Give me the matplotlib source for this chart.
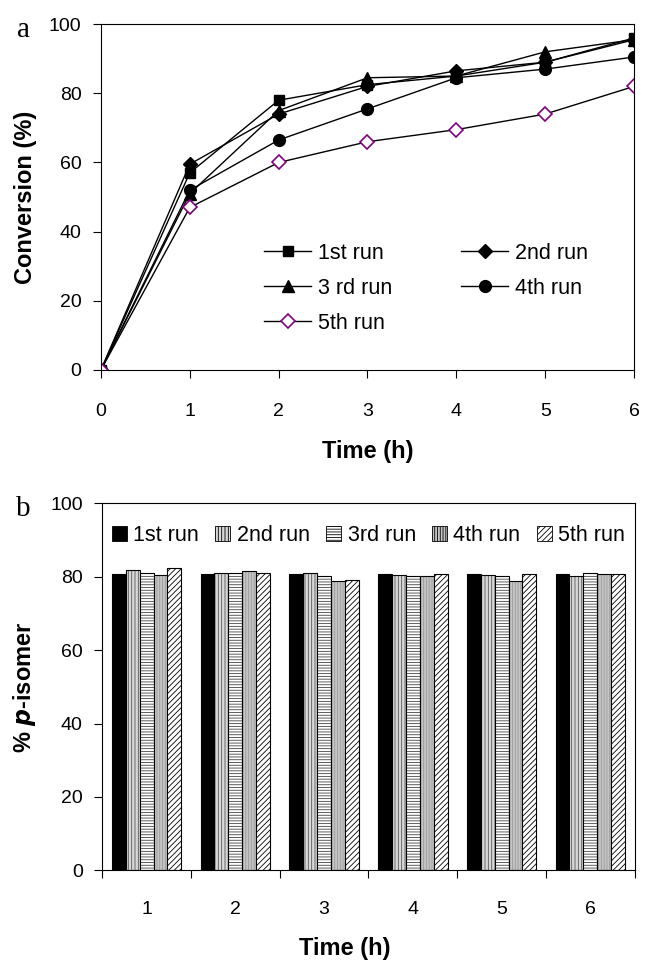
import matplotlib
matplotlib.use('Agg')
import matplotlib.pyplot as plt
import numpy as np

plt.rcParams['font.family'] = ['Liberation Sans', 'DejaVu Sans']
plt.rcParams['hatch.linewidth'] = 0.6

# panel a: conversion vs time
time_h = [0, 1, 2, 3, 4, 5, 6]
run1 = [0, 57, 78, 82.5, 85, 89, 96]
run2 = [0, 59.5, 74, 82, 86.5, 89, 95.5]
run3 = [0, 51, 75, 84.5, 85, 92, 95.5]
run4 = [0, 52, 66.5, 75.5, 84.5, 87, 90.5]
run5 = [0, 47, 60, 66, 69.5, 74, 82]

# panel b: % p-isomer per run
bar_time = [1, 2, 3, 4, 5, 6]
iso1 = [80.7, 80.7, 80.7, 80.7, 80.7, 80.7]
iso2 = [81.8, 81.1, 81.1, 80.5, 80.5, 80.3]
iso3 = [81.1, 81.1, 80.3, 80.3, 80.3, 81.1]
iso4 = [80.5, 81.5, 78.8, 80.3, 78.8, 80.6]
iso5 = [82.5, 81.1, 79.1, 80.6, 80.6, 80.6]
run_labels_a = ['1st run', '2nd run', '3 rd run', '4th run', '5th run']
run_labels_b = ['1st run', '2nd run', '3rd run', '4th run', '5th run']

fig = plt.figure(figsize=(6.51, 9.66), dpi=100)
ax1 = fig.add_axes([0.155, 0.617, 0.819, 0.358])
ax2 = fig.add_axes([0.157, 0.099, 0.818, 0.380])

lw = 1.0
l1, = ax1.plot(time_h, run1, '-s', color='black', lw=lw, ms=6.5, label=run_labels_a[0])
l2, = ax1.plot(time_h, run2, '-D', color='black', lw=lw, ms=7.5, label=run_labels_a[1])
l3, = ax1.plot(time_h, run3, '-^', color='black', lw=lw, ms=8.5, label=run_labels_a[2])
l4, = ax1.plot(time_h, run4, '-o', color='black', lw=lw, ms=8.5, label=run_labels_a[3])
l5, = ax1.plot(time_h, run5, '-D', color='black', lw=lw, ms=7.5, mfc='white',
               mec='#800080', mew=1.2, label=run_labels_a[4])
ax1.set_xlim(0, 6)
ax1.set_ylim(0, 100)
ax1.set_xticks(range(0, 7))
ax1.set_yticks(range(0, 101, 20))
ax1.tick_params(axis='y', direction='out', length=6, labelsize=14, pad=8)
ax1.tick_params(axis='x', direction='out', length=6, labelsize=14, pad=18)
ax1.set_xlabel('Time (h)', fontsize=17, fontweight='bold', labelpad=14)
ax1.set_ylabel('Conversion (%)', fontsize=17, fontweight='bold')
ax1.yaxis.set_label_coords(-0.12, 0.5)
# row-wise order like the original legend
ax1.legend([l1, l3, l5, l2, l4],
           [run_labels_a[0], run_labels_a[2], run_labels_a[4], run_labels_a[1], run_labels_a[3]],
           ncol=2, loc='upper left', bbox_to_anchor=(0.306, 0.368), frameon=False,
           fontsize=15.5, handlelength=2.2, handletextpad=0.3, columnspacing=3.2,
           labelspacing=0.65, borderpad=0, borderaxespad=0)
fig.text(0.036, 0.962, 'a', family='Liberation Serif', fontsize=21, ha='center', va='baseline')

# bars
x = np.arange(len(bar_time)) + 1
w = 0.157
offs = (np.arange(5) - 2) * w
series = [iso1, iso2, iso3, iso4, iso5]
faces = ['black', '#d8d8d8', 'white', '#c4c4c4', 'white']
hatches = [None, '|||||', '------', '||||||', '//////']
hcols = ['black', '#555555', '#444444', '#9a9a9a', 'black']
for i in range(5):
    ax2.bar(x + offs[i], series[i], w, color=faces[i], hatch=hatches[i],
            edgecolor=hcols[i], linewidth=0)
    ax2.bar(x + offs[i], series[i], w, fill=False, edgecolor='black', linewidth=0.8)
handles = [plt.Rectangle((0, 0), 1, 1, facecolor=faces[i], hatch=hatches[i],
                         edgecolor='black', linewidth=0.6) for i in range(5)]
ax2.legend(handles, run_labels_b, ncol=5, loc='upper center', bbox_to_anchor=(0.5, 0.975),
           frameon=False, fontsize=15.5, handlelength=0.7, handleheight=0.7,
           handletextpad=0.3, columnspacing=0.75, borderaxespad=0.2)
ax2.set_xlim(0.5, 6.5)
ax2.set_ylim(0, 100)
ax2.set_yticks(range(0, 101, 20))
ax2.set_xticks(np.arange(0.5, 7, 1))
ax2.set_xticklabels([])
ax2.set_xticks(x, minor=True)
ax2.set_xticklabels([str(t) for t in bar_time], minor=True)
ax2.tick_params(which='major', direction='out', length=6, labelsize=14, pad=8)
ax2.tick_params(axis='x', which='minor', length=0, labelsize=14, pad=22)
ax2.set_xlabel('Time (h)', fontsize=17, fontweight='bold', labelpad=14)
ax2.xaxis.label.set_x(0.456)
ax2.set_ylabel(r'% $\boldsymbol{p}$-isomer', fontsize=17, fontweight='bold')
ax2.yaxis.set_label_coords(-0.121, 0.5)
fig.text(0.036, 0.466, 'b', family='Liberation Serif', fontsize=21, ha='center', va='baseline')

fig.savefig('out.png', dpi=100)
